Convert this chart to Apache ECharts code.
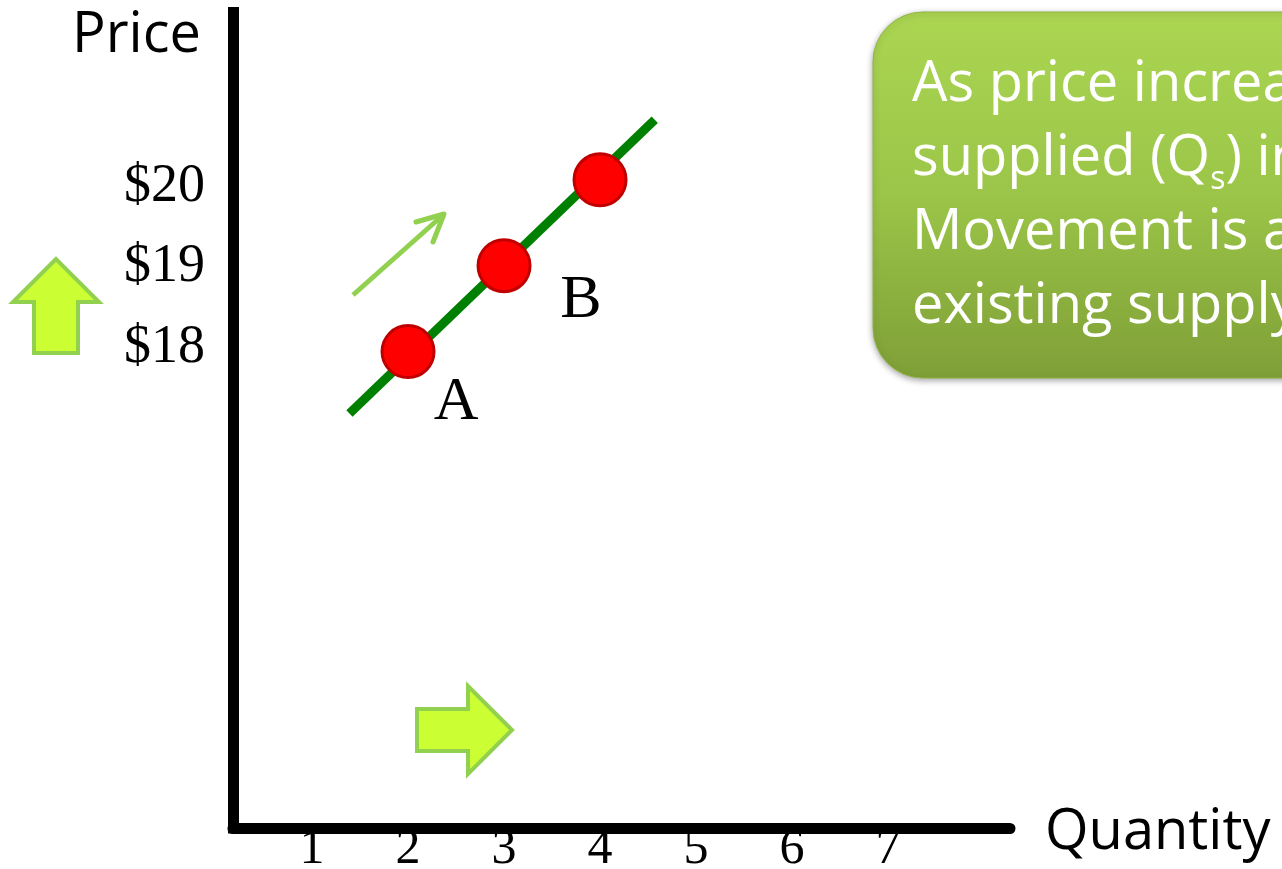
<!DOCTYPE html>
<html><head><meta charset="utf-8">
<script src="https://cdn.jsdelivr.net/npm/echarts@6/dist/echarts.min.js"></script>
<style>html,body{margin:0;padding:0;background:#fff;}#c{width:1282px;height:869px;}</style>
</head><body><div id="c"></div>
<script>
// ---- data ----
const quantityTicks = [1, 2, 3, 4, 5, 6, 7];
const priceTicks = [18, 19, 20];
const pointNames = ['A', 'B', ''];
const pointQuantity = [2, 3, 4];
const pointPrice = [18, 19, 20];
const supplyLineQuantity = [1.39, 4.57];
const supplyLinePrice = [17.28, 20.70];
const boxLines = ['As price increases, quantity', 'supplied (Q', 's', ') increases.', 'Movement is along the', 'existing supply curve.'];

// ---- chart ----
const chart = echarts.init(document.getElementById('c'), null, { renderer: 'canvas' });
const labelOffsets = { A: [48, 51], B: [77, 35] };
const serif = 'Liberation Serif';
const sans = 'Open Sans';

const lineData = supplyLineQuantity.map((q, i) => [q, supplyLinePrice[i]]);
const pointData = pointQuantity.map((q, i) => ({
  value: [q, pointPrice[i]],
  name: pointNames[i],
  label: pointNames[i] ? { show: true, offset: labelOffsets[pointNames[i]] } : { show: false }
}));

const option = {
  backgroundColor: '#ffffff',
  animation: false,
  grid: { left: 233, right: 272, top: 12.5, bottom: 41, outerBoundsMode: 'none' },
  xAxis: {
    type: 'value', min: 0.177, max: 8.27,
    axisLine: { show: true, lineStyle: { color: '#000', width: 11 } },
    axisTick: { show: false },
    splitLine: { show: false },
    axisLabel: {
      customValues: quantityTicks,
      fontFamily: serif, fontSize: 50, color: '#000', margin: -3
    }
  },
  yAxis: [
    {
      type: 'value', min: 12.453, max: 21.948,
      axisLine: { show: true, lineStyle: { color: '#000', width: 11, cap: 'square' } },
      axisTick: { show: false },
      splitLine: { show: false },
      axisLabel: { show: false }
    },
    {
      type: 'value', min: 12, max: 22.18, position: 'left',
      axisLine: { show: false },
      axisTick: { show: false },
      splitLine: { show: false },
      axisLabel: {
        customValues: priceTicks,
        formatter: v => '$' + v,
        fontFamily: serif, fontSize: 54, color: '#000', margin: 28
      }
    }
  ],
  series: [
    {
      type: 'line', data: lineData, xAxisIndex: 0, yAxisIndex: 0,
      symbol: 'none', silent: true, z: 2,
      lineStyle: { color: '#008000', width: 9, cap: 'butt' }
    },
    {
      type: 'scatter', data: pointData, xAxisIndex: 0, yAxisIndex: 0,
      symbol: 'circle', symbolSize: 52, z: 3,
      itemStyle: { color: '#ff0000', borderColor: '#c00000', borderWidth: 3, opacity: 1 },
      label: {
        position: 'inside', formatter: p => p.name,
        fontFamily: serif, fontSize: 62, color: '#000', align: 'center', verticalAlign: 'middle'
      }
    }
  ],
  graphic: [
    { type: 'text', x: 201, y: 36, style: { text: 'Price', font: '56px "Open Sans"', fill: '#000', align: 'right', verticalAlign: 'middle' } },
    { type: 'text', x: 1045, y: 833, style: { text: 'Quantity', font: '56px "Open Sans"', fill: '#000', align: 'left', verticalAlign: 'middle' } },
    // green info box
    {
      type: 'rect', x: 873, y: 12, z: 10,
      shape: { width: 620, height: 366, r: 50 },
      style: {
        fill: new echarts.graphic.LinearGradient(0, 0, 0, 1, [
          { offset: 0, color: '#abd652' },
          { offset: 0.5, color: '#9bc548' },
          { offset: 1, color: '#7f9f37' }
        ]),
        stroke: '#8fb542', lineWidth: 1,
        shadowBlur: 6, shadowColor: 'rgba(0,0,0,0.35)', shadowOffsetY: 2
      }
    },
    {
      type: 'text', x: 912, y: 48, z: 11,
      style: {
        text: '{n|' + boxLines[0] + '}\n{n|' + boxLines[1] + '}{s|' + boxLines[2] + '}{n|' + boxLines[3] + '}\n{n|' + boxLines[4] + '}\n{n|' + boxLines[5] + '}',
        verticalAlign: 'top', align: 'left', fill: '#ffffff',
        rich: {
          n: { fontFamily: sans, fontSize: 56, lineHeight: 74, fill: '#ffffff', verticalAlign: 'middle' },
          s: { fontFamily: sans, fontSize: 32, lineHeight: 18, fill: '#ffffff', verticalAlign: 'bottom' }
        }
      }
    },
    // up arrow
    {
      type: 'polygon', z: 5,
      shape: { points: [[56, 259], [13, 302], [34, 302], [34, 353], [78, 353], [78, 302], [99, 302]] },
      style: { fill: '#ccff33', stroke: '#92d050', lineWidth: 4, lineJoin: 'miter' }
    },
    // right arrow
    {
      type: 'polygon', z: 5,
      shape: { points: [[512, 730], [468, 686], [468, 709], [417, 709], [417, 751], [468, 751], [468, 774]] },
      style: { fill: '#ccff33', stroke: '#92d050', lineWidth: 4, lineJoin: 'miter' }
    },
    // small direction arrow
    {
      type: 'polyline', z: 5,
      shape: { points: [[353, 295], [443, 215]] },
      style: { stroke: '#92d050', lineWidth: 5, fill: null }
    },
    {
      type: 'polyline', z: 5,
      shape: { points: [[416, 222], [444, 214], [433, 242]] },
      style: { stroke: '#92d050', lineWidth: 5, fill: null, lineCap: 'round', lineJoin: 'round' }
    }
  ]
};
chart.setOption(option);
</script>
</body></html>
